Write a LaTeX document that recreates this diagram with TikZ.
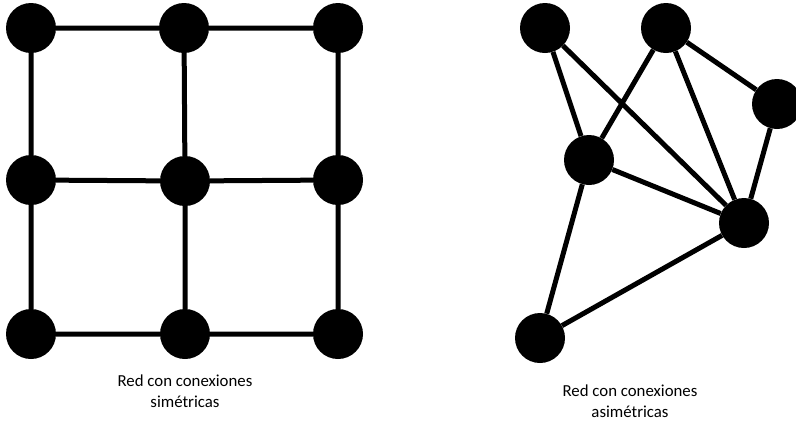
\documentclass[tikz,border=0pt]{standalone}
\usepackage{fontspec}
\setmainfont{Carlito}
\begin{document}
\begin{tikzpicture}[x=1pt,y=-1pt,
  dot/.style={circle,fill=black,draw=none,minimum size=50pt,inner sep=0pt},
  edge/.style={line width=5pt,black},
  lbl/.style={align=center,font=\fontsize{16.8}{21.5}\selectfont,inner sep=0pt}]
\useasboundingbox (0,0) rectangle (796,421);
% left grid
\node[dot] (a1) at (31,28) {};
\node[dot] (a2) at (184,28) {};
\node[dot] (a3) at (338,28) {};
\node[dot] (b1) at (31,180) {};
\node[dot] (b2) at (185,181) {};
\node[dot] (b3) at (338,180) {};
\node[dot] (c1) at (31,334) {};
\node[dot] (c2) at (185,334) {};
\node[dot] (c3) at (338,334) {};
\draw[edge] (a1) -- (a2) (a2) -- (a3)
  (b1) -- (b2) (b2) -- (b3)
  (c1) -- (c2) (c2) -- (c3)
  (a1) -- (b1) (b1) -- (c1)
  (a2) -- (b2) (b2) -- (c2)
  (a3) -- (b3) (b3) -- (c3);
% right graph
\node[dot] (p) at (545,28) {};
\node[dot] (q) at (666,28) {};
\node[dot] (r) at (777,104) {};
\node[dot] (s) at (589,160) {};
\node[dot] (t) at (744,223) {};
\node[dot] (u) at (540,338) {};
\draw[edge] (p) -- (s) (p) -- (t)
  (q) -- (s) (q) -- (t) (q) -- (r)
  (r) -- (t) (s) -- (t) (s) -- (u) (u) -- (t);
% labels
\node[lbl] (l1) at (185,391) {Red con conexiones\\simétricas};
\node[lbl] (l2) at (630,401) {Red con conexiones\\asimétricas};
\end{tikzpicture}
\end{document}
